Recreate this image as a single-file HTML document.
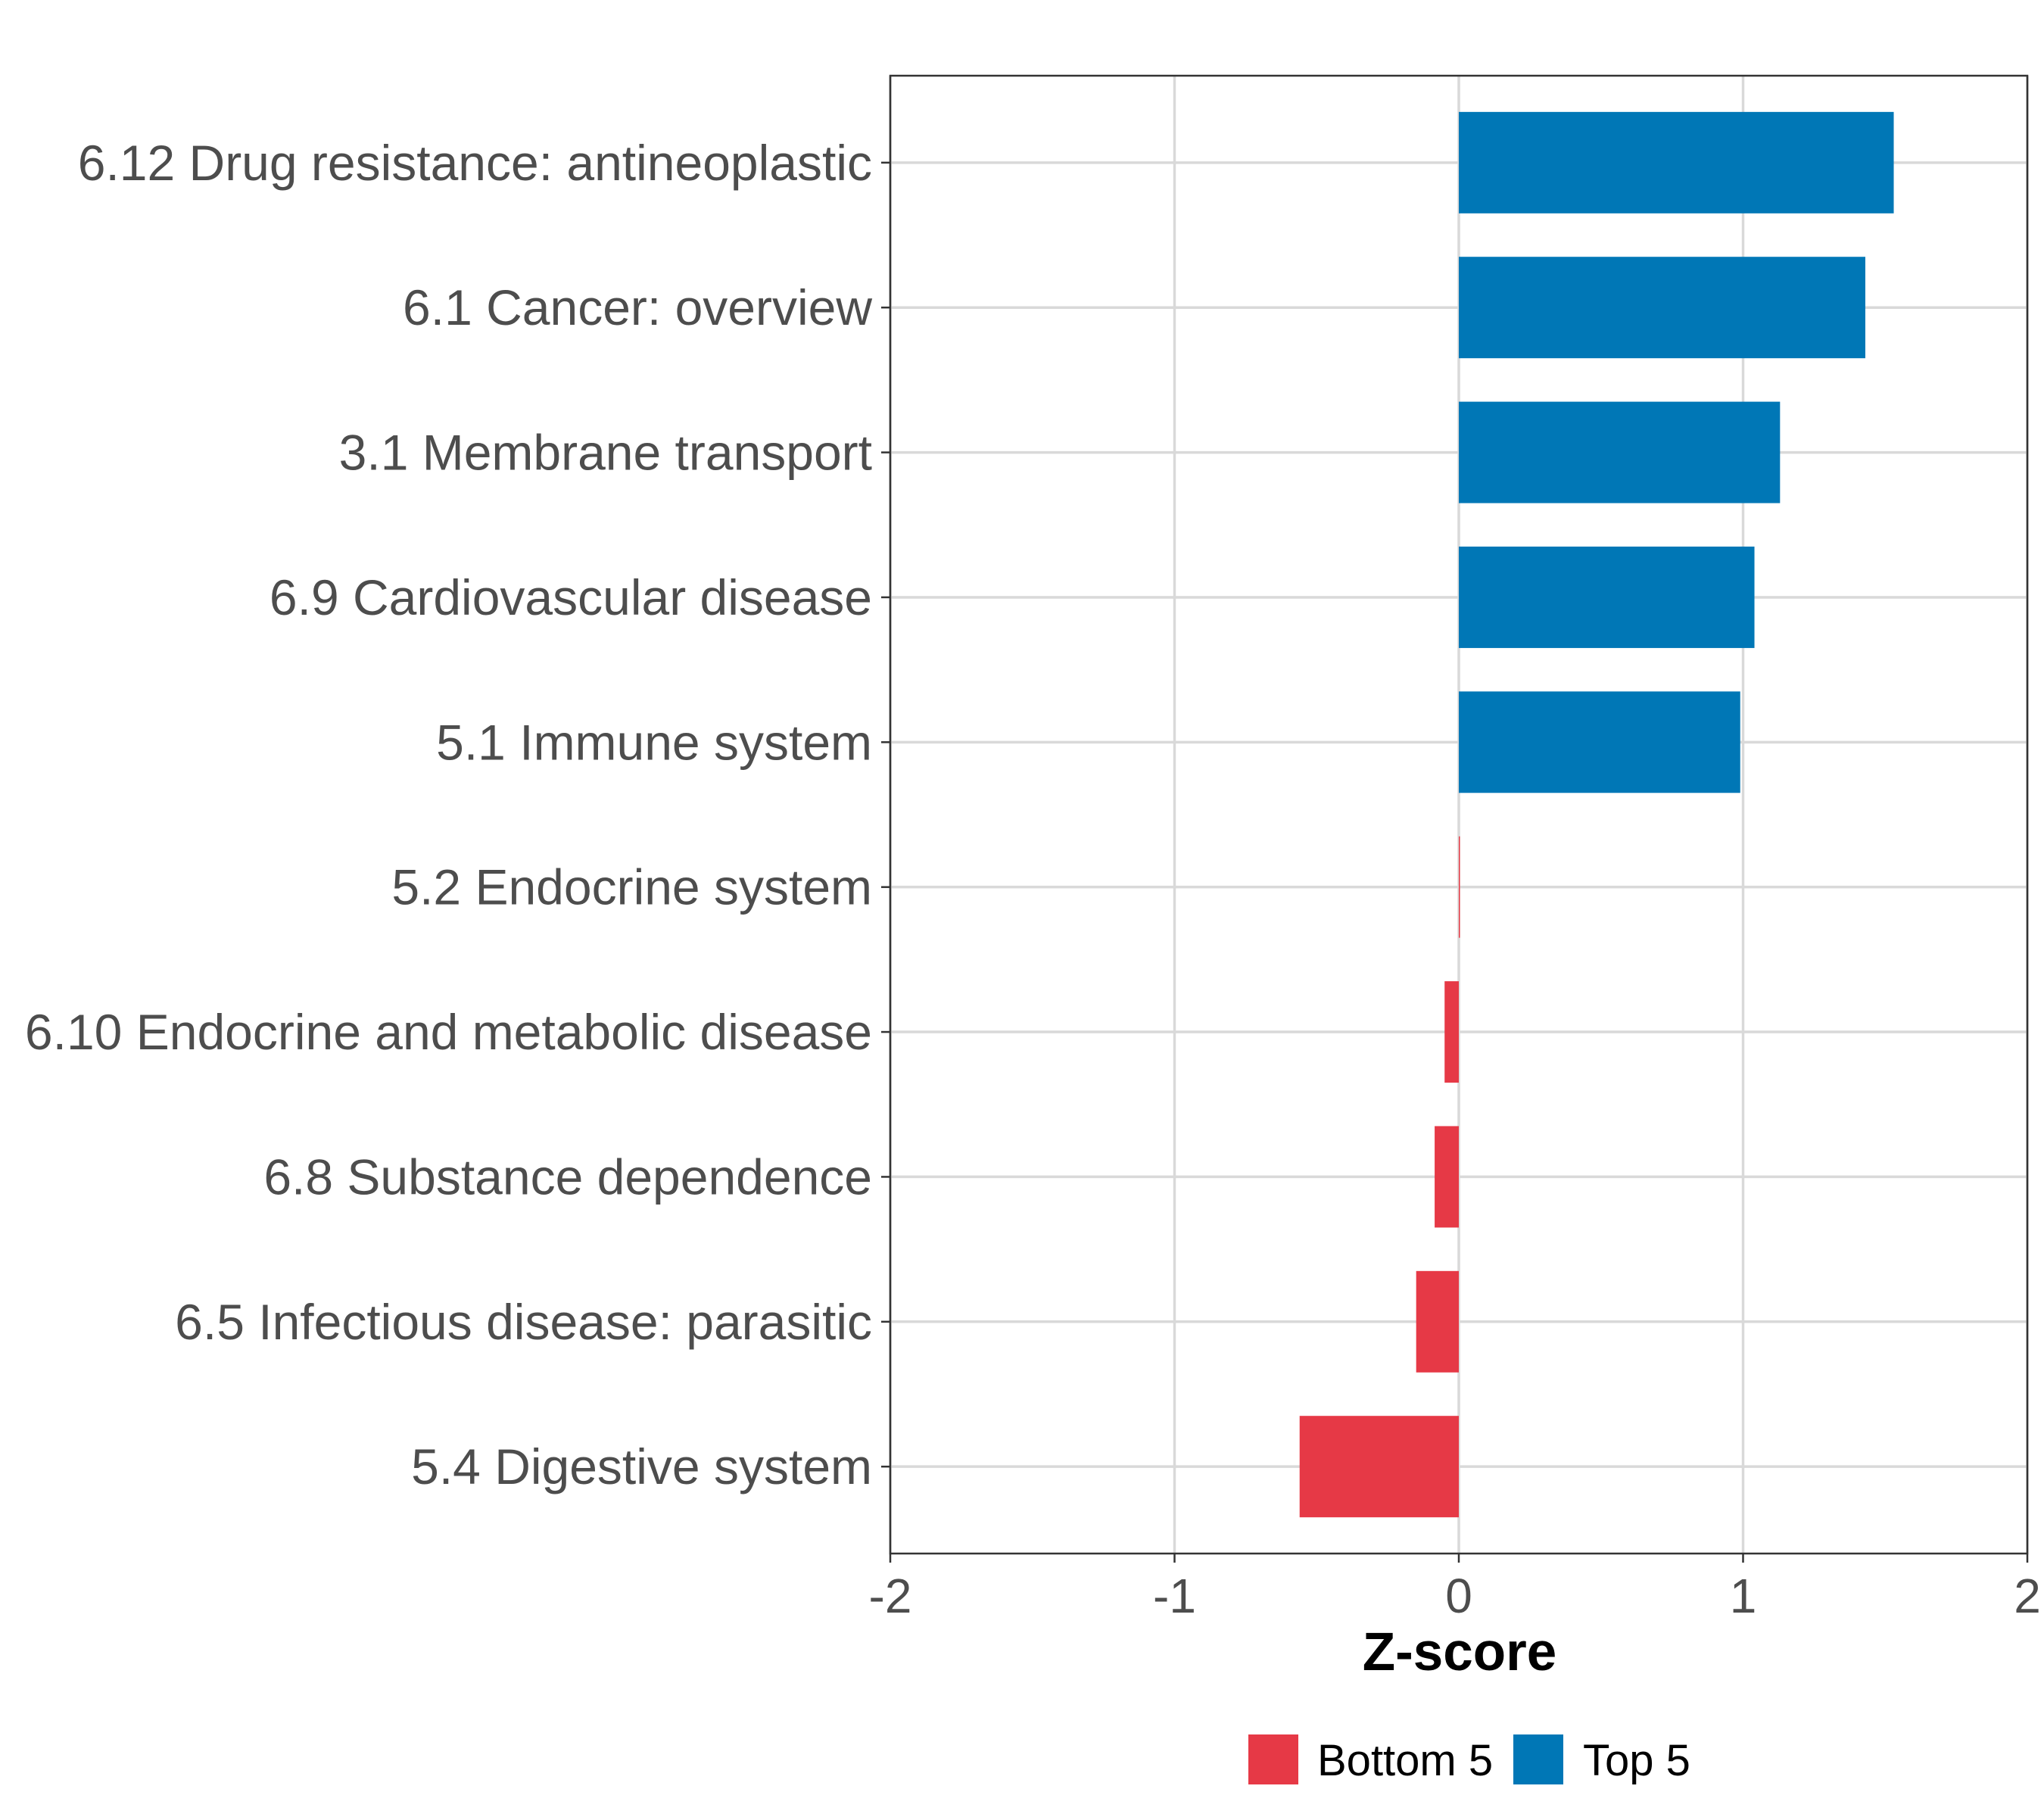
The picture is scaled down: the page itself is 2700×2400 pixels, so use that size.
<!DOCTYPE html>
<html><head><meta charset="utf-8"><style>
html,body{margin:0;padding:0;background:#fff;}
svg{display:block;font-family:"Liberation Sans",Arial,sans-serif;}
</style></head><body>
<svg id="chart" width="2700" height="2400" viewBox="0 0 2700 2400">
<rect width="2700" height="2400" fill="#fff"/>
<g id="grid"></g>
<g id="bars"></g>
<rect x="1176" y="100" width="1502" height="1952" fill="none" stroke="#333" stroke-width="2.5"/>
<g id="axes"></g>
<text x="1928" y="2206" text-anchor="middle" font-size="71" font-weight="bold" fill="#000">Z-score</text>
<g>
<rect x="1649" y="2291" width="66" height="66" fill="#E63946"/>
<text x="1740" y="2345" font-size="58" fill="#000">Bottom 5</text>
<rect x="1999" y="2291" width="66" height="66" fill="#0077B6"/>
<text x="2091" y="2345" font-size="58" fill="#000">Top 5</text>
</g>
</svg>
<script>
const categories = ["6.12 Drug resistance: antineoplastic","6.1 Cancer: overview","3.1 Membrane transport","6.9 Cardiovascular disease","5.1 Immune system","5.2 Endocrine system","6.10 Endocrine and metabolic disease","6.8 Substance dependence","6.5 Infectious disease: parasitic","5.4 Digestive system"];
const values = [1.53,1.43,1.13,1.04,0.99,0.004,-0.05,-0.085,-0.15,-0.56];
const groups = ["Top 5","Top 5","Top 5","Top 5","Top 5","Bottom 5","Bottom 5","Bottom 5","Bottom 5","Bottom 5"];
const xTicks = [-2,-1,0,1,2];
const xTickLabels = ["-2","-1","0","1","2"];

const NS = "http://www.w3.org/2000/svg";
const L = 1176, R = 2678, T = 100, B = 2052;
const xs = v => L + (v + 2) / 4 * (R - L);
const step = (B - T) / (categories.length + 0.2);
const ys = i => T + step * 0.6 + i * step;
const barH = step * 0.7;
function mk(tag, attrs, parent) {
  const e = document.createElementNS(NS, tag);
  for (const k in attrs) e.setAttribute(k, attrs[k]);
  parent.appendChild(e);
  return e;
}
const grid = document.getElementById('grid'), bars = document.getElementById('bars'), axes = document.getElementById('axes');
xTicks.forEach((t, i) => {
  const g = mk('line', {x1: xs(t), x2: xs(t), y1: T, y2: B, stroke: '#d9d9d9', 'stroke-width': 3.5}, grid);
  
  
  const tk = mk('line', {x1: xs(t), x2: xs(t), y1: B, y2: B + 12, stroke: '#333', 'stroke-width': 2.5}, axes);
  
  
  const tx = mk('text', {x: xs(t), y: B + 78, 'text-anchor': 'middle', 'font-size': 64, fill: '#4d4d4d'}, axes);
  tx.textContent = xTickLabels[i];
  
  
});
categories.forEach((c, i) => {
  const y = ys(i);
  const g = mk('line', {x1: L, x2: R, y1: y, y2: y, stroke: '#d9d9d9', 'stroke-width': 3.5}, grid);
  
  
  const v = values[i];
  const x0 = Math.min(xs(0), xs(v)), w = Math.max(Math.abs(xs(v) - xs(0)), 1);
  const b = mk('rect', {x: x0, y: y - barH / 2, width: w, height: barH, fill: groups[i] === 'Top 5' ? '#0077B6' : '#E63946'}, bars);
  
  
  const tk = mk('line', {x1: L - 12, x2: L, y1: y, y2: y, stroke: '#333', 'stroke-width': 2.5}, axes);
  
  
  const tx = mk('text', {x: L - 24, y: y + 23, 'text-anchor': 'end', 'font-size': 66, fill: '#4d4d4d'}, axes);
  tx.textContent = c;
  
  
});
</script>
</body></html>
